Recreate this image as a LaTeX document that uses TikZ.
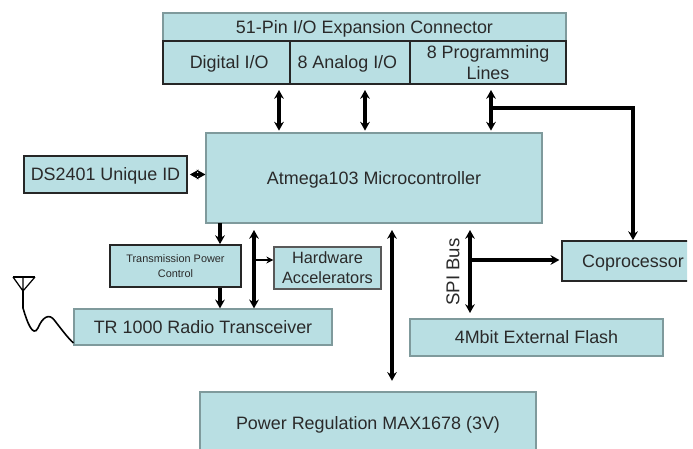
\documentclass[tikz,border=0pt]{standalone}
\usepackage{fontspec}
\setmainfont{Liberation Sans}
\usetikzlibrary{arrows.meta}
\definecolor{boxfill}{HTML}{B9DFE3}
\definecolor{boxedge}{HTML}{7F9A9C}
\definecolor{labeltext}{HTML}{2A2A2A}
\tikzset{
  softbox/.style = {draw = boxedge, line width = 0.7pt, fill = boxfill, text = labeltext, align = center, inner sep = 0pt, text depth = 0pt, font = \fontsize{10.2}{12.5}\selectfont},
  hardbox/.style = {softbox, draw = black!85, line width = 1pt},
  buslink/.style = {{Stealth[length = 5pt, width = 5.5pt]}-{Stealth[length = 5pt, width = 5.5pt]}, line width = 2.1pt},
  feedlink/.style = {-{Stealth[length = 5pt, width = 5.5pt]}, line width = 2.1pt}
}
\begin{document}
\begin{tikzpicture}[x = 0.02cm, y = -0.02cm]
\clip (0,0) rectangle (693,449);
\node [softbox, minimum width = 8.06cm, minimum height = 0.56cm] (connector) at (364.5,27) {51-Pin I/O Expansion Connector};
\node [hardbox, minimum width = 2.54cm, minimum height = 0.86cm] (digital) at (226.5,62.5) {\hspace*{3pt}Digital I/O};
\node [hardbox, minimum width = 2.40cm, minimum height = 0.86cm] (analog) at (350,62.5) {8 Analog I/O\hspace*{3pt}};
\node [hardbox, minimum width = 3.12cm, minimum height = 0.86cm] (program) at (488,62.5) {8 Programming\\Lines};
\node [softbox, minimum width = 6.72cm, minimum height = 1.80cm] (mcu) at (374,178) {Atmega103 Microcontroller};
\node [hardbox, minimum width = 3.26cm, minimum height = 0.74cm] (uniqueid) at (105.5,174.5) {DS2401 Unique ID};
\node [hardbox, minimum width = 2.62cm, minimum height = 0.84cm, font = \fontsize{6.2}{8.5}\selectfont] (powerctl) at (175.5,266) {Transmission Power\\Control};
\node [softbox, draw = black!65, minimum width = 2.14cm, minimum height = 0.84cm, font = \fontsize{9.3}{11.3}\selectfont] (accel) at (327.5,268) {Hardware\\Accelerators};
\node [softbox, minimum width = 5.16cm, minimum height = 0.72cm] (radio) at (203,327) {TR 1000 Radio Transceiver};
\node [softbox, minimum width = 5.06cm, minimum height = 0.74cm] (flash) at (536.5,337.5) {4Mbit External Flash};
\begin{scope}
\clip (0,0) rectangle (687,449);
\node [hardbox, minimum width = 2.84cm, minimum height = 0.80cm] (coproc) at (633,261) {Coprocessor};
\end{scope}
\node [softbox, minimum width = 6.72cm, minimum height = 1.24cm] (regulator) at (368,423) {Power Regulation MAX1678 (3V)};
\node [rotate = 90, text = labeltext, font = \fontsize{10.6}{12}\selectfont] (spilabel) at (453,272) {SPI Bus};
\coordinate (digitalbus) at (279,90);
\coordinate (analogbus) at (365,90);
\coordinate (programbus) at (491,90);
\coordinate (programtap) at (491,108);
\coordinate (mainbus) at (254,230);
\coordinate (radiotap) at (254,260);
\coordinate (powerbus) at (392,230);
\coordinate (spibus) at (470,230);
\coordinate (spiend) at (470,313);
\coordinate (spitap) at (470,260);
\coordinate (ctlbus) at (220,223);
\draw [buslink, shorten >= 1pt] (digitalbus) -- (digitalbus |- mcu.north);
\draw [buslink, shorten >= 1pt] (analogbus) -- (analogbus |- mcu.north);
\draw [buslink, shorten >= 1pt] (programbus) -- (programbus |- mcu.north);
\draw [feedlink] (programtap) -| (coproc.north);
\draw [buslink, line width = 1.6pt] (uniqueid.east) ++(2,0) -- (uniqueid.east -| mcu.west);
\draw [feedlink] (ctlbus) -- (ctlbus |- powerctl.north);
\draw [feedlink] (ctlbus |- powerctl.south) -- (ctlbus |- radio.north);
\draw [buslink] (mainbus) -- (mainbus |- radio.north);
\draw [-{Stealth[length = 4pt, width = 4pt]}, line width = 0.8pt] (radiotap) -- (radiotap -| accel.west);
\draw [buslink, shorten >= 6pt] (powerbus) -- (powerbus |- regulator.north);
\draw [buslink] (spibus) -- (spiend);
\draw [feedlink, shorten >= 1pt] (spitap) -- (spitap -| coproc.west);
% antenna and its lead
\coordinate (aerialleft) at (13,277);
\coordinate (aerialright) at (35,277);
\coordinate (aerialtip) at (23,291);
\coordinate (aerialfoot) at (23,308);
\coordinate (aerialend) at (radio.west |- 0,343);
\draw [line width = 1.5pt] (aerialleft) -- (aerialright);
\draw [line width = 0.7pt] (aerialleft) -- (aerialtip) -- (aerialright) (aerialtip) -- (23,277);
\draw [line width = 0.9pt] (aerialtip) -- (aerialfoot) .. controls (27,322) and (33,338) .. (38,328) .. controls (42,318) and (49,312) .. (55,321) .. controls (62,330) and (68,338) .. (aerialend);
\end{tikzpicture}
\end{document}
